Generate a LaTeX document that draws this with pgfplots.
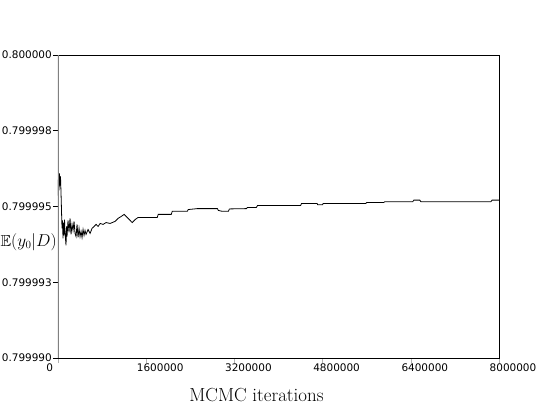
\documentclass[border=0pt]{standalone}
\usepackage{amssymb}
\usepackage{fontspec}
\usepackage{pgfplots}
\pgfplotsset{compat=1.18}
\newfontfamily\tickfont{DejaVu Sans}

% y values are given as (E(y0|D) - 0.79999) * 1e6, so 5 means 0.799995
\begin{document}
\begin{tikzpicture}
\begin{axis}[
    scale only axis, width=441bp, height=303bp,
    xmin=0, xmax=8000000, ymin=0, ymax=10,
    xtick={0,1600000,3200000,4800000,6400000,8000000},
    xticklabels={\hbox to 0pt{\hss 0\hspace{19bp}},1600000,3200000,4800000,6400000,8000000},
    ytick={0,2.5,5,7.5,10},
    yticklabels={0.799990,0.799993,0.799995,0.799998,0.800000},
    scaled x ticks=false,
    tick align=outside, tick pos=left,
    major tick length=5bp,
    ticklabel style={font=\tickfont\fontsize{10.5}{12}\selectfont, inner sep=1bp},
    xticklabel style={xshift=14bp},
    axis line style={black, line width=0.8bp},
    xtick style={gray!60, line width=0.6bp},
    ytick style={black, line width=0.6bp},
    xlabel={MCMC iterations},
    ylabel={$\mathbb{E}(y_0|D)$},
    every axis x label/.style={at={(rel axis cs:0.45,0)}, anchor=north, inner sep=0pt,
        yshift=-30bp, font=\fontsize{19}{22}\selectfont},
    every axis y label/.style={at={(rel axis cs:0,0.383)}, anchor=east, inner sep=0pt,
        xshift=-1bp, font=\fontsize{16}{18}\selectfont},
]
\addplot[black, line width=0.8bp, mark=none] coordinates {
    (0,5.36)(9091,6.02)(18182,5.53)(27273,6.09)(36364,5.69)(45455,5.99)
    (54545,5.46)(63636,4.87)(72727,4.28)(81818,4.54)(90909,3.95)(100000,4.47)
    (109091,4.05)(118182,4.57)(127273,4.15)(145455,3.72)(154545,4.34)(163636,4.01)
    (181818,4.54)(200000,4.15)(218182,4.61)(236364,4.08)(254545,4.41)(272727,4.21)
    (290909,4.51)(309091,4.11)(327273,4.01)(345455,4.41)(363636,3.98)(381818,4.28)
    (400000,4.01)(418182,4.18)(436364,3.98)(454545,4.24)(472727,4.05)(490909,4.21)
    (509091,4.08)(545455,4.24)(581818,4.11)(618182,4.28)(654545,4.34)(690909,4.41)
    (727273,4.34)(763636,4.44)(818182,4.41)(872727,4.47)(945455,4.44)(1036364,4.51)
    (1090909,4.61)(1145455,4.67)(1200000,4.74)(1254545,4.64)(1309091,4.54)(1345455,4.47)
    (1400000,4.57)(1454545,4.64)(1800000,4.64)(1818182,4.74)(2054545,4.74)(2072727,4.84)
    (2345455,4.84)(2363636,4.90)(2527273,4.93)(2890909,4.93)(2909091,4.87)(2981818,4.84)
    (3090909,4.84)(3109091,4.92)(3418182,4.93)(3436364,4.97)(3600000,4.97)(3618182,5.03)
    (4400000,5.03)(4418182,5.10)(4700000,5.10)(4710000,5.06)(4800000,5.06)(4810000,5.10)
    (5581818,5.10)(5600000,5.13)(5909091,5.13)(5927273,5.16)(6436364,5.16)(6454545,5.21)
    (6563636,5.21)(6581818,5.16)(7854545,5.16)(7872727,5.21)(8000000,5.21)
};
\draw[gray, line width=1.5bp] (rel axis cs:0,1) -- (rel axis cs:0,0) -- ++(0,-12bp);
\end{axis}
\pgfresetboundingbox
\path ([xshift=-58bp,yshift=-54bp]current axis.south west)
    rectangle ([xshift=57bp,yshift=55bp]current axis.north east);
\end{tikzpicture}
\end{document}
